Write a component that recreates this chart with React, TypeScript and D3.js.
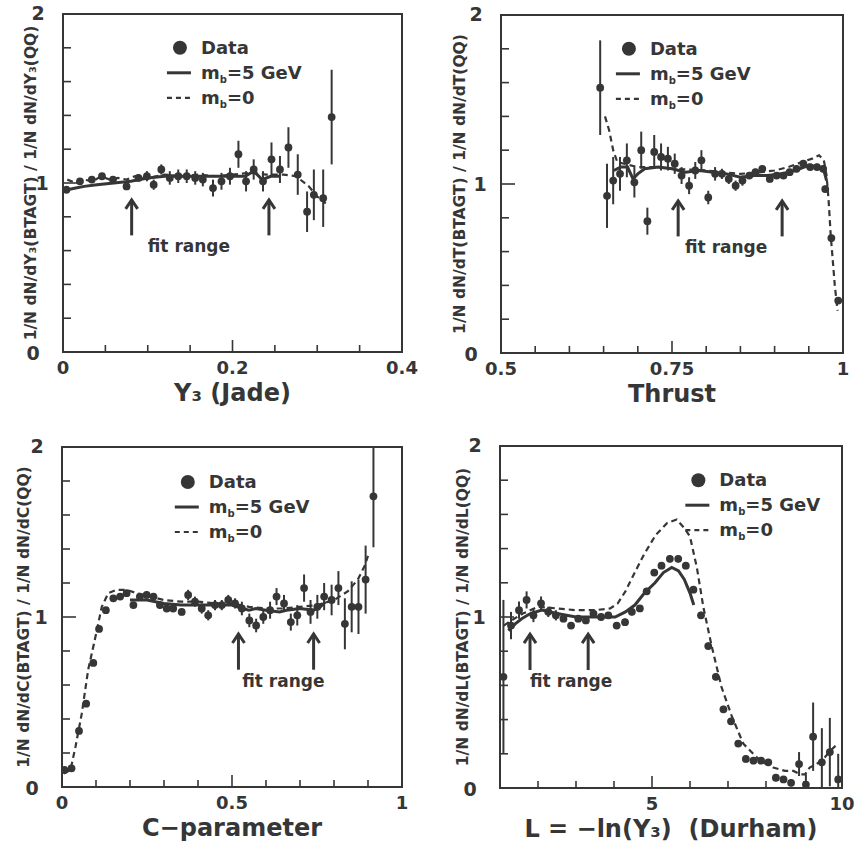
import React from "react";
import * as d3 from "d3";

const INK = "#363636";
const FONT = "'DejaVu Sans', Verdana, sans-serif";

// ---- Y3 (Jade) ----
const jadeX = [0.004, 0.02, 0.034, 0.046, 0.059, 0.075, 0.089, 0.099, 0.107, 0.116, 0.126, 0.136, 0.146, 0.156, 0.165, 0.177, 0.187, 0.197, 0.207, 0.216, 0.225, 0.236, 0.246, 0.256, 0.266, 0.277, 0.288, 0.296, 0.307, 0.317];
const jadeY = [0.96, 1.01, 1.02, 1.04, 1.02, 0.98, 1.03, 1.04, 0.99, 1.08, 1.03, 1.04, 1.04, 1.03, 1.02, 0.97, 1.01, 1.04, 1.17, 1.01, 1.08, 1.01, 1.14, 1.08, 1.21, 1.05, 0.83, 0.93, 0.91, 1.39];
const jadeErr = [0.01, 0.01, 0.015, 0.015, 0.02, 0.02, 0.02, 0.03, 0.03, 0.03, 0.04, 0.04, 0.04, 0.04, 0.04, 0.05, 0.05, 0.05, 0.08, 0.06, 0.06, 0.06, 0.1, 0.08, 0.12, 0.12, 0.12, 0.15, 0.17, 0.28];
const jadeMb5 = [[0.005, 0.96], [0.015, 0.97], [0.025, 0.98], [0.04, 0.99], [0.06, 1.0], [0.08, 1.01], [0.1, 1.03], [0.12, 1.04], [0.14, 1.04], [0.16, 1.04], [0.18, 1.04], [0.2, 1.04], [0.215, 1.04], [0.225, 1.07], [0.235, 1.02], [0.245, 1.04], [0.256, 1.04]];
const jadeMb0 = [[0.005, 1.02], [0.015, 1.0], [0.025, 1.02], [0.035, 1.01], [0.045, 1.04], [0.055, 1.02], [0.065, 1.03], [0.075, 1.02], [0.085, 1.04], [0.1, 1.03], [0.12, 1.05], [0.14, 1.04], [0.16, 1.05], [0.18, 1.04], [0.2, 1.05], [0.22, 1.06], [0.24, 1.05], [0.26, 1.05], [0.275, 1.04], [0.29, 0.98], [0.3, 0.92], [0.31, 0.88]];

// ---- Thrust ----
const thrX = [0.645, 0.655, 0.664, 0.674, 0.684, 0.695, 0.705, 0.714, 0.724, 0.734, 0.744, 0.754, 0.764, 0.775, 0.784, 0.793, 0.803, 0.813, 0.823, 0.833, 0.843, 0.853, 0.863, 0.872, 0.882, 0.893, 0.903, 0.913, 0.922, 0.932, 0.942, 0.952, 0.962, 0.971, 0.974, 0.983, 0.993];
const thrY = [1.57, 0.93, 1.02, 1.06, 1.14, 1.01, 1.2, 0.78, 1.19, 1.16, 1.15, 1.12, 1.05, 0.99, 1.08, 1.14, 0.92, 1.06, 1.06, 1.03, 0.99, 1.02, 1.05, 1.07, 1.09, 1.03, 1.05, 1.05, 1.07, 1.09, 1.12, 1.1, 1.1, 1.09, 0.97, 0.68, 0.31];
const thrErr = [0.28, 0.19, 0.14, 0.1, 0.1, 0.09, 0.11, 0.08, 0.1, 0.08, 0.07, 0.06, 0.05, 0.05, 0.05, 0.06, 0.04, 0.04, 0.03, 0.03, 0.03, 0.03, 0.02, 0.02, 0.02, 0.02, 0.02, 0.02, 0.02, 0.02, 0.02, 0.02, 0.02, 0.02, 0.02, 0.02, 0.02];
const thrMb5 = [[0.665, 1.08], [0.675, 1.1], [0.685, 1.1], [0.693, 1.03], [0.7, 1.06], [0.71, 1.09], [0.73, 1.1], [0.75, 1.09], [0.77, 1.07], [0.79, 1.08], [0.81, 1.07], [0.83, 1.06], [0.85, 1.04], [0.87, 1.05], [0.89, 1.05], [0.91, 1.06], [0.93, 1.08], [0.95, 1.11], [0.965, 1.1], [0.972, 1.08], [0.976, 1.02]];
const thrMb0 = [[0.652, 1.4], [0.658, 1.32], [0.664, 1.2], [0.67, 1.13], [0.68, 1.12], [0.7, 1.1], [0.72, 1.1], [0.75, 1.09], [0.8, 1.08], [0.85, 1.06], [0.88, 1.07], [0.9, 1.08], [0.92, 1.1], [0.94, 1.13], [0.955, 1.15], [0.965, 1.17], [0.972, 1.14], [0.976, 1.05], [0.979, 0.9], [0.982, 0.7], [0.985, 0.55], [0.988, 0.4], [0.992, 0.25]];

// ---- C-parameter ----
const cX = [0.007, 0.028, 0.05, 0.071, 0.092, 0.109, 0.129, 0.151, 0.171, 0.19, 0.21, 0.229, 0.249, 0.269, 0.288, 0.308, 0.327, 0.352, 0.371, 0.391, 0.411, 0.43, 0.45, 0.47, 0.489, 0.509, 0.529, 0.551, 0.571, 0.592, 0.612, 0.631, 0.653, 0.673, 0.692, 0.712, 0.731, 0.751, 0.771, 0.793, 0.813, 0.832, 0.852, 0.872, 0.893, 0.916];
const cY = [0.1, 0.11, 0.33, 0.49, 0.73, 0.93, 1.04, 1.11, 1.12, 1.14, 1.07, 1.12, 1.13, 1.12, 1.07, 1.05, 1.05, 1.03, 1.13, 1.09, 1.05, 1.01, 1.07, 1.07, 1.1, 1.08, 1.05, 0.98, 0.95, 1.0, 1.04, 1.12, 1.08, 0.97, 1.01, 1.17, 1.03, 1.06, 1.12, 1.1, 1.17, 0.96, 1.06, 1.06, 1.22, 1.71];
const cErr = [0.01, 0.01, 0.01, 0.01, 0.01, 0.01, 0.01, 0.01, 0.01, 0.01, 0.01, 0.01, 0.02, 0.02, 0.02, 0.02, 0.02, 0.02, 0.03, 0.03, 0.03, 0.03, 0.03, 0.03, 0.03, 0.03, 0.04, 0.04, 0.04, 0.04, 0.05, 0.05, 0.05, 0.05, 0.06, 0.08, 0.07, 0.07, 0.08, 0.09, 0.1, 0.15, 0.15, 0.16, 0.2, 0.3];
const cMb5 = [[0.2, 1.1], [0.25, 1.1], [0.3, 1.08], [0.35, 1.07], [0.4, 1.07], [0.45, 1.07], [0.5, 1.07], [0.53, 1.05], [0.55, 1.04], [0.57, 1.05], [0.6, 1.04], [0.64, 1.03], [0.66, 1.04], [0.7, 1.05], [0.74, 1.04], [0.76, 1.06], [0.775, 1.09]];
const cMb0 = [[0.005, 0.08], [0.025, 0.1], [0.04, 0.24], [0.058, 0.43], [0.077, 0.69], [0.097, 0.87], [0.117, 1.06], [0.136, 1.14], [0.16, 1.16], [0.19, 1.16], [0.22, 1.14], [0.26, 1.12], [0.3, 1.1], [0.35, 1.09], [0.4, 1.09], [0.45, 1.08], [0.5, 1.08], [0.55, 1.06], [0.6, 1.05], [0.65, 1.05], [0.7, 1.06], [0.75, 1.07], [0.8, 1.1], [0.84, 1.15], [0.87, 1.22], [0.89, 1.3], [0.9, 1.36]];

// ---- L = -ln(Y3) (Durham) ----
const lX = [1.09, 1.29, 1.5, 1.7, 1.88, 2.08, 2.27, 2.47, 2.67, 2.87, 3.06, 3.26, 3.46, 3.66, 3.85, 4.07, 4.29, 4.47, 4.68, 4.86, 5.06, 5.25, 5.47, 5.69, 5.89, 6.09, 6.29, 6.48, 6.68, 6.88, 7.08, 7.27, 7.47, 7.67, 7.87, 8.06, 8.26, 8.46, 8.66, 8.87, 9.05, 9.24, 9.47, 9.68, 9.9];
const lY = [0.65, 0.95, 1.04, 1.1, 1.01, 1.08, 1.03, 1.01, 0.99, 0.95, 0.99, 0.98, 1.02, 1.0, 1.01, 0.95, 0.97, 1.03, 1.05, 1.15, 1.26, 1.3, 1.34, 1.34, 1.3, 1.16, 1.01, 0.83, 0.65, 0.46, 0.39, 0.26, 0.17, 0.16, 0.16, 0.15, 0.06, 0.05, 0.03, 0.14, 0.02, 0.3, 0.15, 0.21, 0.05];
const lErr = [0.45, 0.08, 0.05, 0.05, 0.04, 0.04, 0.03, 0.03, 0.02, 0.02, 0.02, 0.02, 0.02, 0.02, 0.02, 0.02, 0.02, 0.02, 0.02, 0.02, 0.02, 0.02, 0.02, 0.02, 0.02, 0.02, 0.02, 0.02, 0.02, 0.02, 0.02, 0.02, 0.02, 0.02, 0.02, 0.02, 0.02, 0.02, 0.02, 0.07, 0.06, 0.2, 0.2, 0.2, 0.15];
const lMb5 = [[1.22, 0.92], [1.4, 0.96], [1.57, 0.99], [1.8, 1.02], [2.1, 1.04], [2.5, 1.02], [3.0, 1.0], [3.5, 1.0], [4.03, 1.0], [4.3, 1.03], [4.55, 1.07], [4.8, 1.14], [5.08, 1.2], [5.3, 1.26], [5.52, 1.29], [5.7, 1.27], [5.85, 1.22], [6.0, 1.14], [6.1, 1.07]];
const lMb0 = [[1.1, 0.95], [1.3, 0.98], [1.6, 1.02], [2.0, 1.06], [2.5, 1.05], [3.0, 1.04], [3.5, 1.04], [3.9, 1.05], [4.1, 1.08], [4.3, 1.15], [4.5, 1.24], [4.8, 1.37], [5.1, 1.48], [5.4, 1.55], [5.65, 1.57], [5.85, 1.52], [6.0, 1.47], [6.18, 1.29], [6.35, 1.06], [6.57, 0.83], [6.83, 0.59], [7.1, 0.42], [7.4, 0.26], [7.84, 0.16], [8.19, 0.12], [8.5, 0.1], [8.72, 0.1], [8.9, 0.08], [9.03, 0.08], [9.15, 0.12], [9.33, 0.14], [9.55, 0.18], [9.7, 0.22], [9.85, 0.25]];

const yTickLabels = ["0", "1", "2"];

type Cfg = {
  key: string;
  left: number; top: number; width: number; height: number;
  xDomain: [number, number]; xStep: number; xMajor: number[];
  xLabelVals: number[]; xLabels: string[];
  title: string; yLabel: string; yLabelOff: number;
  xs: number[]; ys: number[]; err: number[];
  mb5: number[][]; mb0: number[][];
  arrows: number[]; fitX: number;
  legend: [number, number];
};

const panels: Cfg[] = [
  {
    key: "jade", left: 63, top: 14, width: 339, height: 338,
    xDomain: [0, 0.4], xStep: 0.05, xMajor: [0.2],
    xLabelVals: [0, 0.2, 0.4], xLabels: ["0", "0.2", "0.4"],
    title: "Y₃ (Jade)", yLabel: "1/N dN/dY₃(BTAGT) / 1/N dN/dY₃(QQ)", yLabelOff: 27,
    xs: jadeX, ys: jadeY, err: jadeErr, mb5: jadeMb5, mb0: jadeMb0,
    arrows: [0.081, 0.243], fitX: 0.1, legend: [0.345, 0.1],
  },
  {
    key: "thrust", left: 501, top: 15, width: 342, height: 338,
    xDomain: [0.5, 1], xStep: 0.05, xMajor: [0.75],
    xLabelVals: [0.5, 0.75, 1], xLabels: ["0.5", "0.75", "1"],
    title: "Thrust", yLabel: "1/N dN/dT(BTAGT) / 1/N dN/dT(QQ)", yLabelOff: 36,
    xs: thrX, ys: thrY, err: thrErr, mb5: thrMb5, mb0: thrMb0,
    arrows: [0.759, 0.911], fitX: 0.769, legend: [0.374, 0.1],
  },
  {
    key: "cpar", left: 62, top: 447, width: 340, height: 340,
    xDomain: [0, 1], xStep: 0.1, xMajor: [0.5],
    xLabelVals: [0, 0.5, 1], xLabels: ["0", "0.5", "1"],
    title: "C−parameter", yLabel: "1/N dN/dC(BTAGT) / 1/N dN/dC(QQ)", yLabelOff: 33,
    xs: cX, ys: cY, err: cErr, mb5: cMb5, mb0: cMb0,
    arrows: [0.519, 0.74], fitX: 0.53, legend: [0.37, 0.103],
  },
  {
    key: "durham", left: 500, top: 446, width: 342, height: 342,
    xDomain: [1, 10], xStep: 1, xMajor: [5],
    xLabelVals: [5, 10], xLabels: ["5", "10"],
    title: "L = −ln(Y₃)  (Durham)", yLabel: "1/N dN/dL(BTAGT) / 1/N dN/dL(QQ)", yLabelOff: 32,
    xs: lX, ys: lY, err: lErr, mb5: lMb5, mb0: lMb0,
    arrows: [1.79, 3.32], fitX: 1.79, legend: [0.58, 0.1],
  },
];

const Panel = ({ p }: { p: Cfg }) => {
  const x = d3.scaleLinear().domain(p.xDomain).range([p.left, p.left + p.width]);
  const y = d3.scaleLinear().domain([0, 2]).range([p.top + p.height, p.top]);
  const line = d3.line<number[]>().x((d) => x(d[0])).y((d) => y(d[1]));
  const bottom = p.top + p.height;
  const xTicks = d3.range(p.xDomain[0] + p.xStep, p.xDomain[1] - p.xStep / 2, p.xStep);
  const yTicks = d3.range(1, 10).map((i) => i * 0.2);
  const clipId = `clip-${p.key}`;
  const lx = p.left + p.legend[0] * p.width;
  const ly = p.top + p.legend[1] * p.height;
  const txt = { fontFamily: FONT, fontWeight: "bold" as const, fill: INK };

  return (
    <g>
      <defs>
        <clipPath id={clipId}>
          <rect x={p.left} y={p.top} width={p.width} height={p.height} />
        </clipPath>
      </defs>
      <rect x={p.left} y={p.top} width={p.width} height={p.height} fill="none" stroke={INK} strokeWidth={2} />
      {xTicks.map((v) => {
        const major = p.xMajor.some((m) => Math.abs(m - v) < 1e-9);
        return <line key={`xt${v}`} x1={x(v)} x2={x(v)} y1={bottom} y2={bottom - (major ? 12 : 7)} stroke={INK} strokeWidth={1.6} />;
      })}
      {yTicks.map((v) => {
        const major = Math.abs(v - 1) < 1e-9;
        return <line key={`yt${v}`} x1={p.left} x2={p.left + (major ? 14 : 8)} y1={y(v)} y2={y(v)} stroke={INK} strokeWidth={1.6} />;
      })}

      {p.xLabelVals.map((v, i) => (
        <text key={`xl${v}`} x={x(v)} y={bottom + 22} textAnchor="middle" fontSize={18} {...txt}>{p.xLabels[i]}</text>
      ))}
      <text x={p.left - 30} y={bottom + 8} textAnchor="middle" fontSize={19} {...txt}>{yTickLabels[0]}</text>
      <text x={p.left - 21} y={y(1) + 7} textAnchor="middle" fontSize={19} {...txt}>{yTickLabels[1]}</text>
      <text x={p.left - 25} y={p.top + 6} textAnchor="middle" fontSize={19} {...txt}>{yTickLabels[2]}</text>

      <text
        transform={`translate(${p.left - p.yLabelOff},${p.top + p.height / 2}) rotate(-90)`}
        textAnchor="middle" fontSize={15.5} {...txt}
      >{p.yLabel}</text>
      <text x={p.left + p.width / 2} y={bottom + 49} textAnchor="middle" fontSize={24} style={{ whiteSpace: "pre" }} {...txt}>{p.title}</text>

      <g clipPath={`url(#${clipId})`}>
        <path d={line(p.mb0) ?? ""} fill="none" stroke={INK} strokeWidth={2.2} strokeDasharray="6 4" />
        <path d={line(p.mb5) ?? ""} fill="none" stroke={INK} strokeWidth={3} />
        {p.xs.map((v, i) => (
          <g key={`pt${i}`}>
            <line x1={x(v)} x2={x(v)} y1={y(p.ys[i] - p.err[i])} y2={y(p.ys[i] + p.err[i])} stroke={INK} strokeWidth={2} />
            <circle cx={x(v)} cy={y(p.ys[i])} r={3.9} fill={INK} />
          </g>
        ))}
      </g>

      {p.arrows.map((a) => (
        <g key={`ar${a}`} stroke={INK} strokeWidth={3} fill="none">
          <line x1={x(a)} x2={x(a)} y1={y(0.69)} y2={y(0.9)} />
          <polyline points={`${x(a) - 6},${y(0.9) + 9} ${x(a)},${y(0.9)} ${x(a) + 6},${y(0.9) + 9}`} />
        </g>
      ))}
      <text x={x(p.fitX)} y={y(0.59)} fontSize={17} {...txt}>fit range</text>

      <circle cx={lx} cy={ly} r={7} fill={INK} />
      <text x={lx + 21} y={ly + 6} fontSize={18} {...txt}>Data</text>
      <line x1={lx - 13} x2={lx + 11} y1={ly + 25} y2={ly + 25} stroke={INK} strokeWidth={3} />
      <text x={lx + 21} y={ly + 31} fontSize={18} {...txt}>
        m<tspan fontSize={10} dy={4}>b</tspan><tspan dy={-4}>=5 GeV</tspan>
      </text>
      <line x1={lx - 13} x2={lx + 11} y1={ly + 50} y2={ly + 50} stroke={INK} strokeWidth={2.2} strokeDasharray="5 4" />
      <text x={lx + 21} y={ly + 56} fontSize={18} {...txt}>
        m<tspan fontSize={10} dy={4}>b</tspan><tspan dy={-4}>=0</tspan>
      </text>
    </g>
  );
};

export default function App() {
  return (
    <svg width={855} height={853} style={{ position: "absolute", left: 0, top: 0 }}>
      <rect width={855} height={853} fill="#fff" />
      {panels.map((p) => <Panel key={p.key} p={p} />)}
    </svg>
  );
}
